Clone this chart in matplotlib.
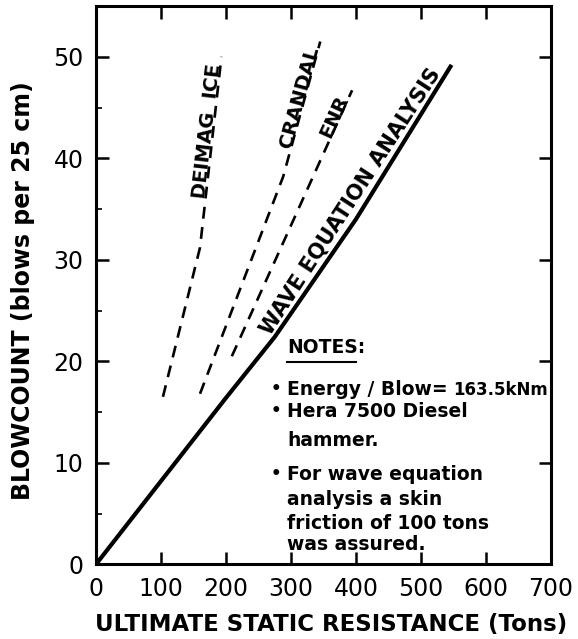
import numpy as np
import matplotlib
matplotlib.use("Agg")
import matplotlib.pyplot as plt
from matplotlib.lines import Line2D

# Dados: resistencia estatica ultima (tons) x nega (golpes / 25 cm)
wave_x = [0, 100, 200, 275, 400, 547]
wave_y = [0, 8.2, 16.4, 22.4, 34.0, 49.2]

deimag_x = [103, 160, 193]
deimag_y = [16.5, 31.2, 50.0]

crandal_x = [160, 288, 345]
crandal_y = [16.8, 38.2, 51.5]

enr_x = [209, 394]
enr_y = [20.5, 46.7]

x_ticks = [0, 100, 200, 300, 400, 500, 600, 700]
y_ticks = [0, 10, 20, 30, 40, 50]
y_minor = [5, 15, 25, 35, 45]

notas = ["Energy / Blow=", "Hera 7500 Diesel", "hammer.", "For wave equation",
         "analysis a skin", "friction of 100 tons", "was assured."]
notas_y = [0.303, 0.264, 0.211, 0.151, 0.106, 0.064, 0.026]
bullets = [True, True, False, True, False, False, False]

fig = plt.figure(figsize=(5.78, 6.39), dpi=100)
ax = fig.add_axes([96 / 578, 1 - 564.3 / 639, 455 / 578, 558.3 / 639])
ax.set_xlim(0, 700)
ax.set_ylim(0, 55)

# Curvas
ax.plot(wave_x, wave_y, color="black", lw=3.0, solid_capstyle="butt")
for xs, ys in [(deimag_x, deimag_y), (crandal_x, crandal_y), (enr_x, enr_y)]:
    ax.plot(xs, ys, color="black", lw=1.9, dashes=(4.5, 3.2))


def texto_na_linha(p0, p1, xa, texto, va="baseline", size=15):
    # angulo calculado em coordenadas de tela
    (a, b), (c, d) = ax.transData.transform([p0, p1])
    ang = np.degrees(np.arctan2(d - b, c - a))
    t = (xa - p0[0]) / (p1[0] - p0[0])
    ya = p0[1] + t * (p1[1] - p0[1])
    ax.text(xa, ya, texto, rotation=ang, rotation_mode="anchor", ha="center",
            va=va, fontsize=size, fontweight="bold")


texto_na_linha((deimag_x[1], deimag_y[1]), (deimag_x[2], deimag_y[2]), 180, "DEIMAG  ICE", size=14)
texto_na_linha((crandal_x[1], crandal_y[1]), (crandal_x[2], crandal_y[2]), 321, "CRANDAL", size=14)
texto_na_linha((enr_x[0], enr_y[0]), (enr_x[1], enr_y[1]), 374, "ENR", size=14)
texto_na_linha((wave_x[3], wave_y[3]), (wave_x[5], wave_y[5]), 405, "WAVE EQUATION ANALYSIS",
               va="bottom", size=15)

# Notas
ax.text(0.42, 0.378, "NOTES:", transform=ax.transAxes, fontsize=13.5, fontweight="bold")
ax.add_line(Line2D([0.42, 0.572], [0.362, 0.362], transform=ax.transAxes, color="black", lw=1.5))
for txt, yy, bl in zip(notas, notas_y, bullets):
    ax.text(0.42, yy, txt, transform=ax.transAxes, fontsize=13.5, fontweight="bold")
    if bl:
        ax.text(0.407, yy + 0.011, "•", transform=ax.transAxes, fontsize=12,
                ha="right", va="center", fontweight="bold")
ax.text(0.993, notas_y[0], "163.5kNm", transform=ax.transAxes, ha="right",
        fontsize=12, fontweight="bold")

# Eixos
ax.set_xticks(x_ticks)
ax.set_yticks(y_ticks)
ax.set_yticks(y_minor, minor=True)
ax.tick_params(which="major", direction="in", length=9, width=1.8, top=True, right=True,
               labelsize=17, pad=9)
ax.tick_params(which="minor", direction="in", length=4, width=1.2, left=True, right=False)
for s in ax.spines.values():
    s.set_linewidth(2.2)

fig.text(0.5735, 0.022, "ULTIMATE STATIC RESISTANCE (Tons)", ha="center", va="center",
         fontsize=16.5, fontweight="bold")
fig.text(0.040, 0.5446, "BLOWCOUNT (blows per 25 cm)", ha="center", va="center",
         rotation=90, fontsize=17, fontweight="bold")

fig.savefig("out.png", dpi=100)
